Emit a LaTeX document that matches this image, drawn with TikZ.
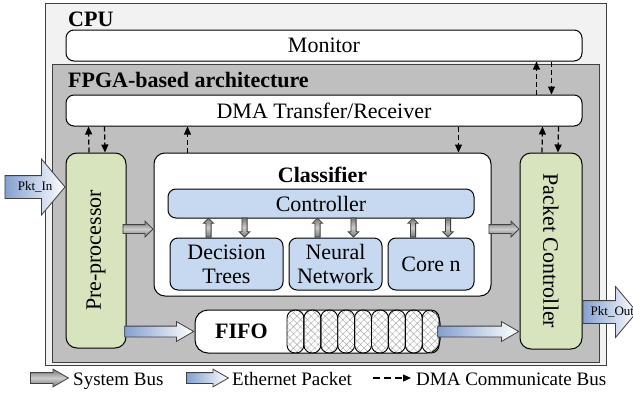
\documentclass[tikz,border=0pt]{standalone}
\usepackage{fontspec}
\setmainfont{Liberation Serif}
\usetikzlibrary{shapes, shapes.arrows, arrows.meta, positioning, calc, patterns.meta}

\definecolor{cpugray}{RGB}{242,242,242}
\definecolor{fpgagray}{RGB}{191,191,191}
\definecolor{pregreen}{RGB}{215,228,189}
\definecolor{coreblue}{RGB}{198,217,241}
\definecolor{ethblue}{RGB}{132,160,207}
\definecolor{busgray}{RGB}{120,120,120}

\begin{document}
\begin{tikzpicture} [
    x=1pt, y=-1pt,
    font=\fontsize{22pt}{24pt}\selectfont,
    container/.style={rectangle, draw=black!75, line width=1pt, inner sep=0pt},
    module/.style={rectangle, draw=black, line width=1pt, rounded corners=8pt, fill=white, inner sep=0pt},
    unit/.style={module, fill=pregreen, rounded corners=11pt},
    core/.style={module, fill=coreblue, align=center},
    heading/.style={font=\fontsize{22pt}{24pt}\selectfont\bfseries, inner sep=0pt},
    cell/.style={draw=black, line width=0.9pt, rounded corners=8pt, pattern={Hatch[angle=45, distance=5pt, line width=0.4pt]}, pattern color=gray!70},
    sysbus/.style={single arrow, draw=black!75, top color=busgray, bottom color=busgray, middle color=gray!40, line width=0.8pt, inner sep=0pt, text height=4pt, text depth=4pt, single arrow head extend=3.5pt},
    ctrlbus/.style={sysbus, text height=2.2pt, text depth=2.2pt, single arrow head extend=2.5pt, minimum height=19pt},
    ethbus/.style={single arrow, draw=black!75, left color=ethblue, right color=white, line width=0.8pt, inner sep=0pt, text height=5pt, text depth=5pt, single arrow head extend=4.5pt, single arrow tip angle=60},
    pktbus/.style={ethbus, text height=11pt, text depth=11pt, single arrow tip angle=100},
    dmabus/.style={-{Triangle[width=7pt,length=8pt]}, line width=1.2pt, dash pattern=on 5pt off 3pt},
    legendtext/.style={font=\fontsize{19pt}{21pt}\selectfont, anchor=base west, inner sep=0pt},
    pktlabel/.style={font=\fontsize{13pt}{15pt}\selectfont, anchor=west, inner sep=0pt}
]
\useasboundingbox (0,0) rectangle (633,394);

% Containers
\node[container, fill=cpugray, minimum width=561pt, minimum height=362pt] (cpu) at (325.5,184) {};
\node[heading, anchor=base west] (cpulabel) at (68,26) {CPU};
\node[container, fill=fpgagray, minimum width=547pt, minimum height=298pt] (fpga) at (325.5,213) {};
\node[heading, anchor=base west] (fpgalabel) at (68,87) {FPGA-based architecture};

% Modules
\node[module, minimum width=516pt, minimum height=31pt] (monitor) at (324,45.5) {Monitor};
\node[module, minimum width=516pt, minimum height=31pt] (dma) at (324,110.5) {DMA Transfer/Receiver};
\node[unit, minimum width=60pt, minimum height=195pt] (pre) at (96,250.5) {};
\node[rotate=90] (pretext) at (pre) {Pre-processor};
\node[unit, minimum width=62pt, minimum height=196pt] (pktctrl) at (551,251) {};
\node[rotate=-90] (pktctrltext) at (pktctrl) {Packet Controller};

% Classifier
\node[module, rounded corners=11pt, minimum width=337pt, minimum height=143pt] (classifier) at (322.5,224.5) {};
\node[heading, anchor=base] (clstitle) at ([yshift=-30pt]classifier.north) {Classifier};
\node[core, minimum width=306pt, minimum height=29pt] (ctrl) at (321,203.5) {Controller};
\node[core, minimum width=113pt, minimum height=52pt] (dtree) at (226.5,264) {Decision\\Trees};
\node[core, minimum width=93pt, minimum height=52pt, right=5pt of dtree] (nnet) {Neural\\Network};
\node[core, minimum width=86pt, minimum height=52pt, right=5pt of nnet] (coren) {Core n};

% FIFO with its cells
\node[module, rounded corners=13pt, minimum width=245pt, minimum height=43pt] (fifo) at (317.5,331.5) {};
\node[heading] (fifolabel) at ([xshift=47pt]fifo.west) {FIFO};
\draw[cell] (287,310) rectangle ++(16.9,43);
\draw[cell] (303.9,310) rectangle ++(16.9,43);
\draw[cell] (320.8,310) rectangle ++(16.9,43);
\draw[cell] (337.7,310) rectangle ++(16.9,43);
\draw[cell] (354.6,310) rectangle ++(16.9,43);
\draw[cell] (371.5,310) rectangle ++(16.9,43);
\draw[cell] (388.4,310) rectangle ++(16.9,43);
\draw[cell] (405.3,310) rectangle ++(16.9,43);
\draw[cell] (422.2,310) rectangle ++(16.9,43);

% System bus
\node[sysbus, minimum height=30pt, anchor=tip] (pre2cls) at ([yshift=-4.5pt]classifier.west) {};
\node[sysbus, minimum height=30pt, anchor=tip] (cls2pkt) at ([yshift=-4.5pt]classifier.west -| pktctrl.west) {};
\node[ctrlbus, rotate=90, anchor=tail] (dtreeup) at ([xshift=-18pt]dtree.north) {};
\node[ctrlbus, rotate=-90, anchor=tip] (dtreedown) at ([xshift=18pt]dtree.north) {};
\node[ctrlbus, rotate=90, anchor=tail] (nnetup) at ([xshift=-18pt]nnet.north) {};
\node[ctrlbus, rotate=-90, anchor=tip] (nnetdown) at ([xshift=18pt]nnet.north) {};
\node[ctrlbus, rotate=90, anchor=tail] (corenup) at ([xshift=-18pt]coren.north) {};
\node[ctrlbus, rotate=-90, anchor=tip] (corendown) at ([xshift=17pt]coren.north) {};

% Ethernet packets
\node[ethbus, minimum height=69pt, anchor=tip] (pre2fifo) at (fifo.west) {};
\node[ethbus, minimum height=81pt, anchor=tip] (fifo2pkt) at (fifo.east -| pktctrl.west) {};
\node[pktbus, single arrow head extend=16.5pt, minimum height=60pt, anchor=tip] (pktin) at ([yshift=63.5pt]pre.west) {};
\node[pktlabel] (pktinlabel) at ([xshift=13pt]pktin.tail) {Pkt\_In};
\node[pktbus, single arrow head extend=14pt, minimum height=54pt, anchor=tail] (pktout) at ([yshift=-61pt]pktctrl.east) {};
\node[pktlabel] (pktoutlabel) at ([xshift=8pt]pktout.tail) {Pkt\_Out};

% DMA communicate bus
\draw[dmabus] ([xshift=-46pt]dma.north east) -- ([xshift=-46pt]monitor.south east);
\draw[dmabus] ([xshift=-31pt]monitor.south east) -- ([xshift=-31pt]dma.north east);
\draw[dmabus] ([xshift=-7pt]pre.north) -- ([xshift=23pt]dma.south west);
\draw[dmabus] ([xshift=39pt]dma.south west) -- ([xshift=9pt]pre.north);
\draw[dmabus] ([xshift=34pt]classifier.north west) -- ([xshift=122pt]dma.south west);
\draw[dmabus] ([xshift=-124pt]dma.south east) -- ([xshift=-33pt]classifier.north east);
\draw[dmabus] ([xshift=-9pt]pktctrl.north) -- ([xshift=-40pt]dma.south east);
\draw[dmabus] ([xshift=-24pt]dma.south east) -- ([xshift=7pt]pktctrl.north);

% Legend
\node[sysbus, minimum height=38pt, text height=5pt, text depth=5pt, single arrow tip angle=60, anchor=tail] (legsys) at (30,378) {};
\node[legendtext] (legsystext) at (73,385) {System Bus};
\node[ethbus, minimum height=42pt, single arrow head extend=3.5pt, anchor=tail] (legeth) at (186,378) {};
\node[legendtext] (legethtext) at (232,385) {Ethernet Packet};
\coordinate (legdmastart) at (373,378);
\coordinate (legdmaend) at (411,378);
\draw[dmabus, dash pattern=on 7pt off 4pt] (legdmastart) -- (legdmaend);
\node[legendtext] (legdmatext) at (416,385) {DMA Communicate Bus};

\end{tikzpicture}
\end{document}
